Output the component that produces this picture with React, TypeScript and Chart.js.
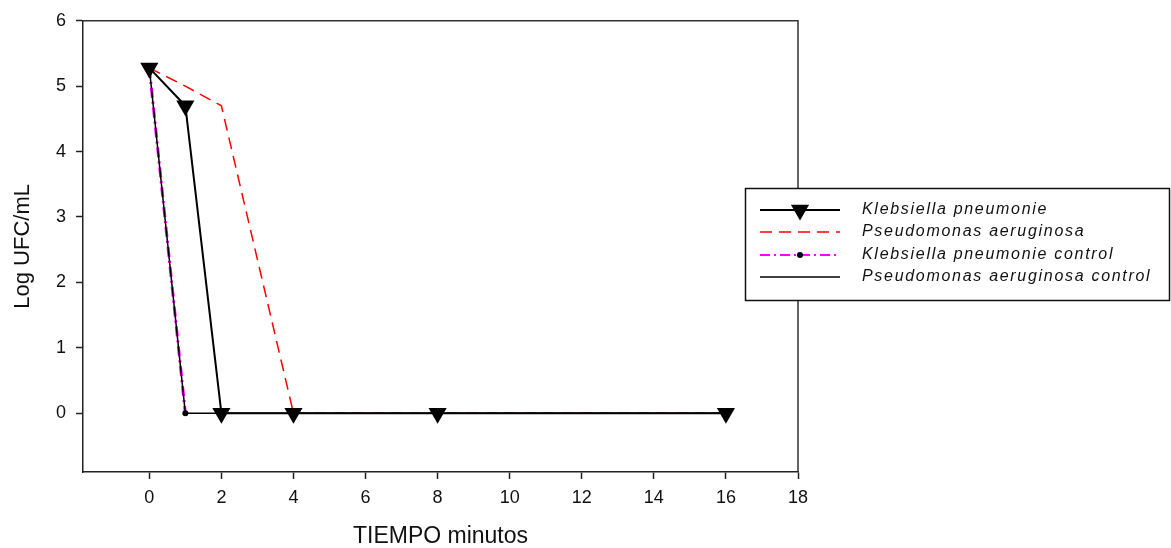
import { useEffect, useRef } from 'react';
import { Chart, registerables } from 'chart.js';

Chart.register(...registerables);

// ---- Data ----
const SERIES_LABELS = [
  'Klebsiella pneumonie',
  'Pseudomonas aeruginosa',
  'Klebsiella pneumonie control',
  'Pseudomonas aeruginosa control',
];
const TIME_KLEBSIELLA = [0, 1, 2, 4, 8, 16];
const KLEBSIELLA = [5.28, 4.7, 0, 0, 0, 0];
const TIME_PSEUDOMONAS = [0, 1, 2, 4, 8, 16];
const PSEUDOMONAS = [5.28, 5.0, 4.7, 0, 0, 0];
const TIME_KLEB_CONTROL = [0, 1];
const KLEB_CONTROL = [5.28, 0];
const TIME_PSEUDO_CONTROL = [0, 1, 2, 4, 8, 16];
const PSEUDO_CONTROL = [5.28, 0, 0, 0, 0, 0];

const X_TICKS = [0, 2, 4, 6, 8, 10, 12, 14, 16, 18];
const Y_TICKS = [0, 1, 2, 3, 4, 5, 6];
const X_TITLE = 'TIEMPO minutos';
const Y_TITLE = 'Log UFC/mL';

const FONT = "'Liberation Sans', Arial, sans-serif";
const INK = '#111';

const toXY = (xs: number[], ys: number[]) => xs.map((x, i) => ({ x, y: ys[i] }));

const frameAndLegend = {
  id: 'frameAndLegend',
  afterDraw(chart: any) {
    const ctx = chart.ctx as CanvasRenderingContext2D;
    const { left, right, top } = chart.chartArea;
    ctx.save();
    // top and right frame lines
    ctx.strokeStyle = '#333';
    ctx.lineWidth = 1.5;
    ctx.beginPath();
    ctx.moveTo(left, top);
    ctx.lineTo(right, top);
    ctx.lineTo(right, chart.chartArea.bottom);
    ctx.stroke();

    // legend box
    const bx = right - 53;
    const by = 188;
    const bw = chart.width - bx - 2;
    const bh = 112;
    ctx.fillStyle = '#fff';
    ctx.fillRect(bx, by, bw, bh);
    ctx.strokeStyle = '#111';
    ctx.lineWidth = 1.5;
    ctx.strokeRect(bx + 0.5, by + 0.5, bw, bh);

    const rows = [210, 232, 255, 277];
    const x0 = bx + 15;
    const x1 = bx + 95;
    const mx = bx + 55;
    const tx = bx + 117;
    chart.data.datasets.forEach((ds: any, i: number) => {
      const y = rows[i];
      ctx.save();
      ctx.strokeStyle = ds.borderColor;
      ctx.lineWidth = Math.min(ds.borderWidth, 2);
      ctx.setLineDash(ds.borderDash || []);
      ctx.beginPath();
      ctx.moveTo(x0, y);
      ctx.lineTo(x1, y);
      ctx.stroke();
      ctx.setLineDash([]);
      if (ds.pointRadius > 0) {
        ctx.fillStyle = ds.pointBackgroundColor;
        ctx.beginPath();
        if (ds.pointStyle === 'triangle') {
          const r = ds.pointRadius;
          const s = r * Math.sin(Math.PI / 3);
          ctx.moveTo(mx, y + r);
          ctx.lineTo(mx - s, y - r / 2);
          ctx.lineTo(mx + s, y - r / 2);
          ctx.closePath();
        } else {
          ctx.arc(mx, y, ds.pointRadius, 0, Math.PI * 2);
        }
        ctx.fill();
      }
      ctx.restore();
      ctx.fillStyle = INK;
      ctx.font = `italic 16px ${FONT}`;
      (ctx as any).letterSpacing = '1.7px';
      ctx.textAlign = 'left';
      ctx.textBaseline = 'middle';
      ctx.fillText(SERIES_LABELS[i], tx, y);
      (ctx as any).letterSpacing = '0px';
    });
    ctx.restore();
  },
};

export default function App() {
  const ref = useRef<HTMLCanvasElement | null>(null);

  useEffect(() => {
    document.body.style.margin = '0';
    const canvas = ref.current;
    if (!canvas) return;
    const chart = new Chart(canvas, {
      type: 'line',
      data: {
        datasets: [
          {
            label: SERIES_LABELS[0],
            data: toXY(TIME_KLEBSIELLA, KLEBSIELLA),
            borderColor: '#000',
            borderWidth: 2,
            pointStyle: 'triangle',
            rotation: 180,
            pointRadius: 10.5,
            pointBackgroundColor: '#000',
            pointBorderColor: '#000',
            pointBorderWidth: 0,
            order: 0,
          },
          {
            label: SERIES_LABELS[1],
            data: toXY(TIME_PSEUDOMONAS, PSEUDOMONAS),
            borderColor: '#ff0000',
            borderWidth: 1.5,
            borderDash: [12, 7],
            pointRadius: 0,
            order: 3,
          },
          {
            label: SERIES_LABELS[2],
            data: toXY(TIME_KLEB_CONTROL, KLEB_CONTROL),
            borderColor: '#ff00ff',
            borderWidth: 3,
            borderDash: [10, 4, 2, 4],
            pointStyle: 'circle',
            pointRadius: 3,
            pointBackgroundColor: '#000',
            pointBorderColor: '#000',
            pointBorderWidth: 0,
            order: 2,
          },
          {
            label: SERIES_LABELS[3],
            data: toXY(TIME_PSEUDO_CONTROL, PSEUDO_CONTROL),
            borderColor: '#000',
            borderWidth: 1.5,
            pointRadius: 0,
            order: 1,
          },
        ],
      },
      options: {
        animation: false,
        responsive: false,
        devicePixelRatio: 1,
        layout: { padding: { top: 19, right: 373, left: 0, bottom: 0 } },
        plugins: {
          legend: { display: false },
          tooltip: { enabled: false },
        },
        elements: { line: { tension: 0 } },
        scales: {
          x: {
            type: 'linear',
            min: -1.84,
            max: 18,
            afterFit: (s: any) => {
              s.height = 76;
            },
            afterBuildTicks: (s: any) => {
              s.ticks = X_TICKS.map((v) => ({ value: v }));
            },
            ticks: {
              color: INK,
              font: { family: FONT, size: 18 },
              padding: 8,
              maxRotation: 0,
              autoSkip: false,
            },
            grid: {
              drawOnChartArea: false,
              drawTicks: true,
              tickLength: 7,
              tickWidth: 1.5,
              tickColor: '#222',
            },
            border: { display: true, color: '#222', width: 1.5 },
            title: {
              display: true,
              text: X_TITLE,
              color: INK,
              font: { family: FONT, size: 23, lineHeight: 1 },
              padding: { top: 0, bottom: 0 },
            },
          },
          y: {
            type: 'linear',
            min: -0.9,
            max: 6,
            afterFit: (s: any) => {
              s.width = 83;
            },
            afterBuildTicks: (s: any) => {
              s.ticks = Y_TICKS.map((v) => ({ value: v }));
            },
            ticks: {
              color: INK,
              font: { family: FONT, size: 18 },
              padding: 10,
              autoSkip: false,
            },
            grid: {
              drawOnChartArea: false,
              drawTicks: true,
              tickLength: 7,
              tickWidth: 1.5,
              tickColor: '#222',
            },
            border: { display: true, color: '#222', width: 1.5 },
            title: {
              display: true,
              text: Y_TITLE,
              color: INK,
              font: { family: FONT, size: 22, lineHeight: 1 },
              padding: { top: 12, bottom: 0 },
            },
          },
        },
      },
      plugins: [frameAndLegend],
    });
    return () => chart.destroy();
  }, []);

  return (
    <div style={{ width: 1171, height: 548, background: '#fff' }}>
      <canvas ref={ref} width={1171} height={548} style={{ width: 1171, height: 548, display: 'block' }} />
    </div>
  );
}
